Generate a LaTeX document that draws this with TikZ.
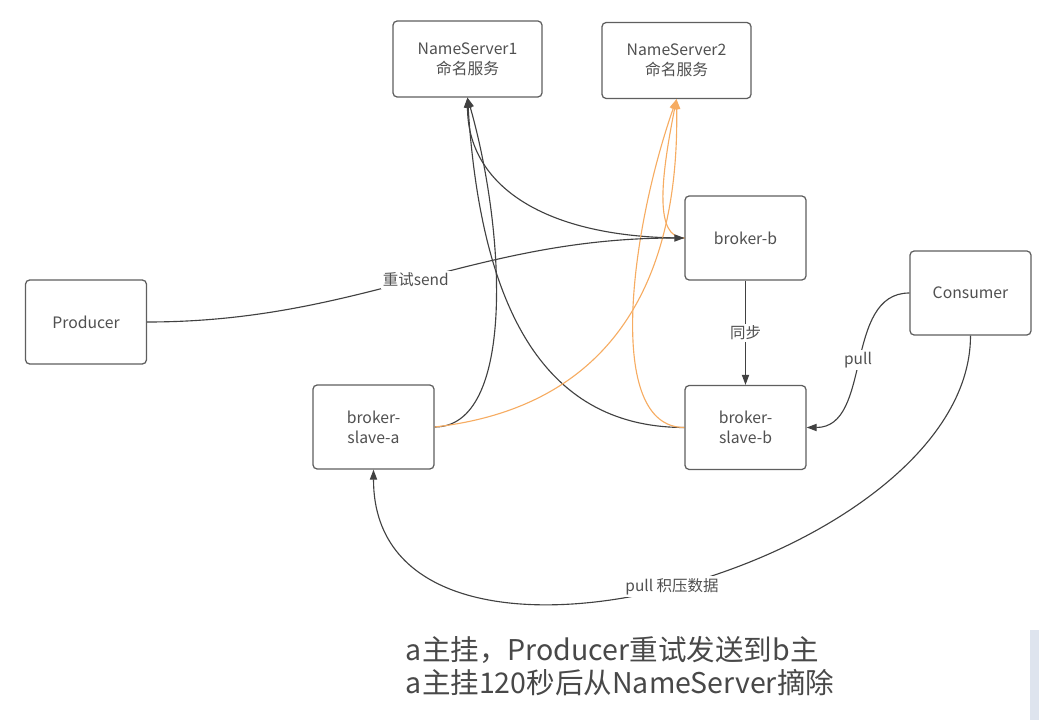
\documentclass[tikz,border=0pt]{standalone}
\usepackage{fontspec}
\setmainfont{Noto Sans CJK SC}
\usepackage{xcolor}
\usepackage{tikz}
\usetikzlibrary{arrows.meta}
\definecolor{boxgray}{RGB}{95,95,95}
\definecolor{linegray}{RGB}{65,65,65}
\definecolor{txtgray}{RGB}{80,80,80}
\definecolor{notegray}{RGB}{72,72,72}
\definecolor{regorange}{RGB}{246,172,98}
\definecolor{scrollblue}{RGB}{222,228,238}
\tikzset{
  box/.style={rounded corners=3pt, draw=boxgray, line width=0.9pt, fill=white, align=center, text=txtgray, font=\fontsize{11.2}{14.2}\selectfont, minimum width=3.025cm, minimum height=2.1cm, inner sep=2pt},
  nsbox/.style={box, minimum width=3.725cm, minimum height=1.9cm},
  arr/.style={-{Triangle[length=2.5mm,width=1.8mm]}, line width=0.8pt, draw=linegray},
  regarr/.style={-{Triangle[length=2.5mm,width=1.8mm]}, line width=0.8pt, draw=regorange},
  lbl/.style={fill=white, text=txtgray, font=\fontsize{11}{13}\selectfont, inner sep=1.5pt},
}

\begin{document}
\begin{tikzpicture}[x=0.025cm,y=-0.025cm]
    \useasboundingbox (0,0) rectangle (1039,720);
    % name servers
    \node[nsbox] (ns1) at (467.5,59) {NameServer1\\命名服务};
    \node[nsbox] (ns2) at (676.5,60.5) {NameServer2\\命名服务};
    % brokers, clients
    \node[box] (bb) at (745.5,238) {broker-b};
    \node[box] (cons) at (970.5,293) {Consumer};
    \node[box] (prod) at (86,322) {Producer};
    \node[box] (sa) at (373.5,427) {broker-\\slave-a};
    \node[box] (sb) at (745.5,427.5) {broker-\\slave-b};
    % register with NameServer1
    \draw[arr] (bb.west) .. controls +(-140,0) and +(0,88) .. (ns1.south);
    \draw[arr] (sa.east) .. controls +(81,0) and +(38,133) .. (ns1.south);
    \draw[arr] (sb.west) .. controls +(-145,0) and +(13,203) .. (ns1.south);
    % register with NameServer2
    \draw[regarr] (sa.east) .. controls +(175,-20) and +(3,185) .. (ns2.south);
    \draw[regarr] (sb.west) .. controls +(-80,0) and +(-46,131) .. (ns2.south);
    \draw[regarr] (bb.west) .. controls +(-30,0) and +(-16,81) .. (ns2.south);
    % retry, sync, pull
    \draw[arr] (prod.east) to[out=0,in=180] node[lbl]{重试send} (bb.west);
    \draw[arr] (bb.south) -- node[lbl]{同步} (sb.north);
    \draw[arr] (cons.west) to[out=180,in=0] node[lbl]{pull} (sb.east);
    \draw[arr] (cons.south) .. controls +(0,230) and +(0,260) .. node[lbl]{pull 积压数据} (sa.south);
    % note
    \node[anchor=north west, align=left, text=notegray, font=\fontsize{20.3}{23.5}\selectfont] (note) at (401,631) {a主挂，Producer重试发送到b主\\a主挂120秒后从NameServer摘除};
    \fill[scrollblue] (1030,630) rectangle (1039,720);
  \end{tikzpicture}
\end{document}
